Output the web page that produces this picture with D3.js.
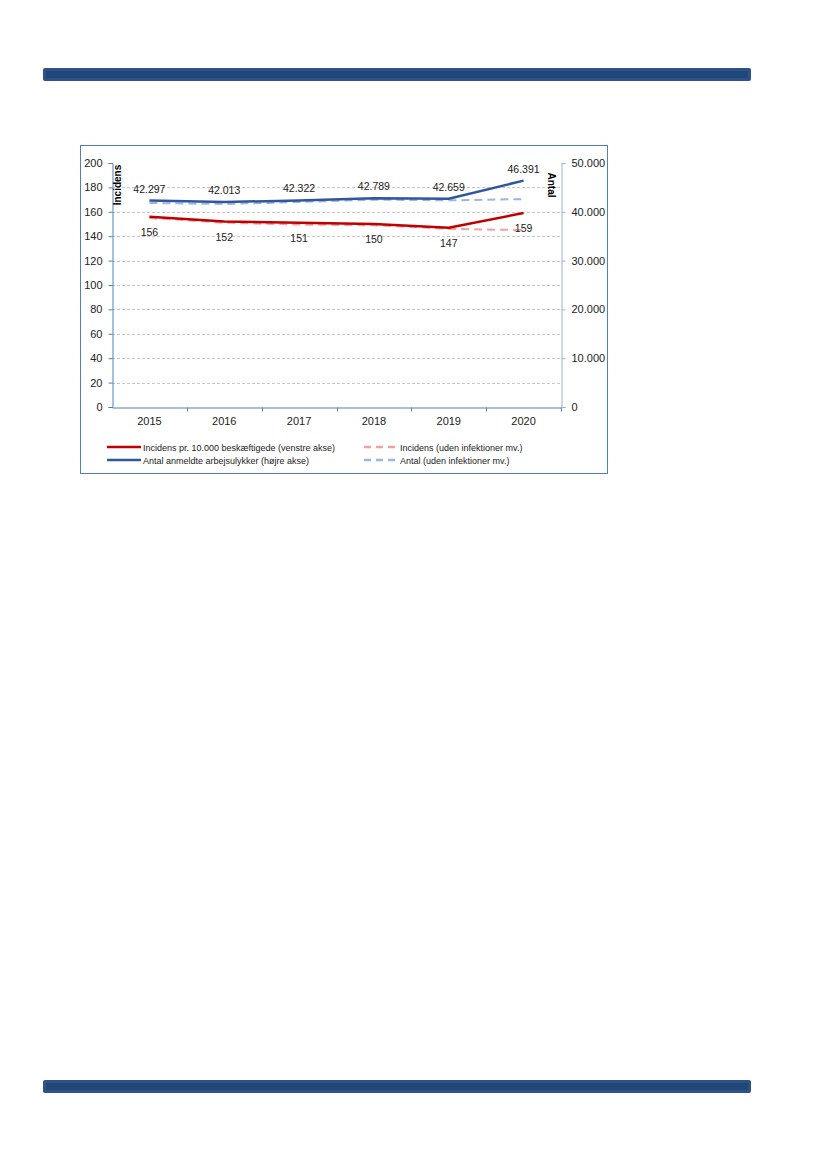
<!DOCTYPE html>
<html>
<head>
<meta charset="utf-8">
<script src="https://cdn.jsdelivr.net/npm/d3@7"></script>
<style>
  body { margin: 0; background: #fff; }
  svg { display: block; }
</style>
</head>
<body>
<div id="chart"></div>
<script>
// data
const years = ["2015", "2016", "2017", "2018", "2019", "2020"];
const incidens = [156, 152, 151, 150, 147, 159];
const incidensUden = [155, 151, 149.5, 149, 146, 145];
const antal = [42297, 42013, 42322, 42789, 42659, 46391];
const antalUden = [41800, 41600, 42000, 42500, 42350, 42600];
const leftTicks = [0, 20, 40, 60, 80, 100, 120, 140, 160, 180, 200];
const rightTicks = [0, 10000, 20000, 30000, 40000, 50000];

const fmt = d3.formatLocale({decimal: ",", thousands: ".", grouping: [3], currency: ["", ""]}).format(",d");

const W = 827, H = 1169;
const svg = d3.select("#chart").append("svg").attr("width", W).attr("height", H)
  .style("font-family", "'Liberation Sans', Arial, sans-serif");

// page bars
function pageBar(y){
  svg.append("rect").attr("x", 43).attr("y", y).attr("width", 708).attr("height", 13)
    .attr("rx", 2).attr("fill", "#2e5288");
  svg.append("rect").attr("x", 46).attr("y", y + 3).attr("width", 702).attr("height", 7)
    .attr("fill", "#1f4778");
}
pageBar(68);
pageBar(1080);

// frame
svg.append("rect").attr("x", 80.5).attr("y", 145.5).attr("width", 527).attr("height", 328)
  .attr("fill", "#fff").attr("stroke", "#4f81bd").attr("stroke-width", 1);

const plot = {left: 112, right: 561, top: 163, bottom: 407};

const x = d3.scaleBand().domain(years).range([plot.left, plot.right]);
const yL = d3.scaleLinear().domain([0, 200]).range([plot.bottom, plot.top]);
const yR = d3.scaleLinear().domain([0, 50000]).range([plot.bottom, plot.top]);
const cx = d => x(d) + x.bandwidth() / 2;

// grid
svg.append("g").selectAll("line").data(leftTicks.filter(d => d > 0 && d < 200)).join("line")
  .attr("x1", plot.left).attr("x2", plot.right)
  .attr("y1", d => Math.round(yL(d)) + 0.5).attr("y2", d => Math.round(yL(d)) + 0.5)
  .attr("stroke", "#c8c8c8").attr("stroke-dasharray", "3,2");

// left axis
const axL = svg.append("g").attr("transform", `translate(${plot.left + 0.5},0)`)
  .call(d3.axisLeft(yL).tickValues(leftTicks).tickSize(4).tickPadding(6));
axL.select(".domain").attr("stroke", "#4f81bd");
axL.selectAll(".tick line").attr("stroke", "#4f81bd");
axL.selectAll("text").attr("font-size", 11).attr("fill", "#222").attr("font-family", null);

// right axis
const axR = svg.append("g").attr("transform", `translate(${plot.right + 0.5},0)`)
  .call(d3.axisRight(yR).tickValues(rightTicks).tickFormat(fmt).tickSize(4).tickPadding(6));
axR.select(".domain").attr("stroke", "#95b3d7");
axR.selectAll(".tick line").attr("stroke", "#95b3d7");
axR.selectAll("text").attr("font-size", 11).attr("fill", "#222").attr("font-family", null);

// bottom axis
const axB = svg.append("g").attr("transform", `translate(0,${plot.bottom + 0.5})`)
  .call(d3.axisBottom(x).tickSize(0).tickPadding(10));
axB.select(".domain").attr("stroke", "#4f81bd");
axB.selectAll("text").attr("font-size", 11).attr("fill", "#222").attr("font-family", null);
axB.append("g").selectAll("line").data(years.slice(1).concat(["end"])).join("line")
  .attr("x1", (d, i) => Math.round(plot.left + x.bandwidth() * (i + 1)) + 0.5)
  .attr("x2", (d, i) => Math.round(plot.left + x.bandwidth() * (i + 1)) + 0.5)
  .attr("y1", 0).attr("y2", 4).attr("stroke", "#4f81bd");

// axis titles
svg.append("text").attr("transform", `translate(${plot.left + 9},${185}) rotate(-90)`)
  .attr("text-anchor", "middle").attr("font-size", 10).attr("font-weight", "bold").text("Incidens");
svg.append("text").attr("transform", `translate(${plot.right - 13},${185}) rotate(90)`)
  .attr("text-anchor", "middle").attr("font-size", 10).attr("font-weight", "bold").text("Antal");

// lines
const lineL = d3.line().x((d, i) => cx(years[i])).y(d => yL(d));
const lineR = d3.line().x((d, i) => cx(years[i])).y(d => yR(d));

svg.append("path").datum(antalUden).attr("d", lineR).attr("fill", "none")
  .attr("stroke", "#9db5e0").attr("stroke-width", 2).attr("stroke-dasharray", "8,5");
svg.append("path").datum(incidensUden).attr("d", lineL).attr("fill", "none")
  .attr("stroke", "#f4a0a0").attr("stroke-width", 2).attr("stroke-dasharray", "8,5");
svg.append("path").datum(antal).attr("d", lineR).attr("fill", "none")
  .attr("stroke", "#2f57a0").attr("stroke-width", 2.5);
svg.append("path").datum(incidens).attr("d", lineL).attr("fill", "none")
  .attr("stroke", "#c00000").attr("stroke-width", 2.5);

// data labels
svg.append("g").selectAll("text").data(antal).join("text")
  .attr("x", (d, i) => cx(years[i])).attr("y", d => yR(d) - 8)
  .attr("text-anchor", "middle").attr("font-size", 10.5).attr("fill", "#222")
  .text(d => fmt(d));
svg.append("g").selectAll("text").data(incidens).join("text")
  .attr("x", (d, i) => cx(years[i])).attr("y", d => yL(d) + 19)
  .attr("text-anchor", "middle").attr("font-size", 10.5).attr("fill", "#222")
  .text(d => d);

// legend
const legend = [
  {label: "Incidens pr. 10.000 beskæftigede (venstre akse)", color: "#c00000", dash: null, x: 107, y: 447},
  {label: "Antal anmeldte arbejsulykker (højre akse)", color: "#2f57a0", dash: null, x: 107, y: 460},
  {label: "Incidens (uden infektioner mv.)", color: "#f4a0a0", dash: "7,5", x: 364, y: 447},
  {label: "Antal (uden infektioner mv.)", color: "#9db5e0", dash: "7,5", x: 364, y: 460}
];
const lg = svg.append("g").selectAll("g").data(legend).join("g")
  .attr("transform", d => `translate(${d.x},${d.y})`);
lg.append("line").attr("x1", 0).attr("x2", 34).attr("y1", 0).attr("y2", 0)
  .attr("stroke", d => d.color).attr("stroke-width", 2.5).attr("stroke-dasharray", d => d.dash);
lg.append("text").attr("x", 36).attr("y", 3.5).attr("font-size", 9).attr("fill", "#222")
  .text(d => d.label);
</script>
</body>
</html>
